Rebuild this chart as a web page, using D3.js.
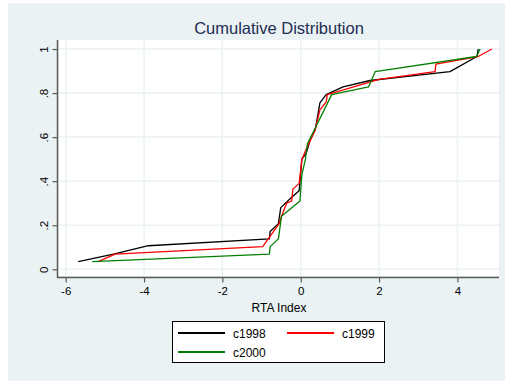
<!DOCTYPE html>
<html>
<head>
<meta charset="utf-8">
<script src="https://cdn.jsdelivr.net/npm/d3@7"></script>
<style>
  html, body { margin: 0; padding: 0; background: #ffffff; }
  svg { display: block; font-family: "Liberation Sans", Arial, Helvetica, sans-serif; }
</style>
</head>
<body>
<svg id="chart" width="505" height="381"></svg>
<script>
// Cumulative distribution of the RTA index, one curve per year
const seriesNames = ["c1998", "c1999", "c2000"];
const seriesColors = ["#000000", "#ff0000", "#008000"];

const rta1998 = [-5.68, -4.78, -3.89, -0.80, -0.78, -0.57, -0.51, -0.23, -0.04, 0.03, 0.14, 0.24, 0.37, 0.49, 0.65, 1.08, 1.77, 3.81, 4.50, 4.53];
const cum1998 = [0.0345, 0.069, 0.107, 0.138, 0.172, 0.207, 0.28, 0.327, 0.357, 0.50, 0.527, 0.586, 0.633, 0.755, 0.793, 0.828, 0.857, 0.897, 0.966, 1.0];

const rta1999 = [-5.17, -4.74, -0.97, -0.83, -0.55, -0.49, -0.36, -0.23, -0.20, -0.04, 0.03, 0.14, 0.37, 0.49, 0.65, 0.68, 2.0, 3.43, 3.45, 4.53, 4.88];
const cum1999 = [0.0345, 0.069, 0.103, 0.138, 0.207, 0.241, 0.30, 0.31, 0.364, 0.39, 0.50, 0.545, 0.633, 0.724, 0.76, 0.793, 0.862, 0.897, 0.931, 0.966, 1.0];

const rta2000 = [-5.32, -0.80, -0.78, -0.57, -0.49, -0.02, 0.03, 0.12, 0.17, 0.41, 0.79, 1.73, 1.90, 4.49, 4.58];
const cum2000 = [0.0345, 0.069, 0.103, 0.138, 0.241, 0.31, 0.43, 0.50, 0.57, 0.655, 0.793, 0.828, 0.897, 0.966, 1.0];

const xTicks = [-6, -4, -2, 0, 2, 4];
const yTicks = [0, 0.2, 0.4, 0.6, 0.8, 1];
const yTickLabels = ["0", ".2", ".4", ".6", ".8", "1"];

const titleText = "Cumulative Distribution";
const xTitle = "RTA Index";

const svg = d3.select("#chart");

// graph region
svg.append("rect").attr("x", 8).attr("y", 3).attr("width", 497).attr("height", 378)
  .attr("fill", "#eaf2f3");

// plot region
const plot = { left: 59, right: 499, top: 40, bottom: 276 };
svg.append("rect").attr("x", plot.left).attr("y", plot.top)
  .attr("width", plot.right - plot.left).attr("height", plot.bottom - plot.top)
  .attr("fill", "#ffffff");

const x = d3.scaleLinear().domain([-6, 4]).range([65.7, 457.4]);
const y = d3.scaleLinear().domain([0, 1]).range([269.3, 49]);

// grid
const grid = svg.append("g").attr("stroke", "#eaf2f3").attr("stroke-width", 1.5);
grid.selectAll("line.gx").data(xTicks).join("line")
  .attr("x1", d => x(d)).attr("x2", d => x(d))
  .attr("y1", plot.top).attr("y2", plot.bottom);
grid.selectAll("line.gy").data(yTicks).join("line")
  .attr("y1", d => y(d)).attr("y2", d => y(d))
  .attr("x1", plot.left).attr("x2", plot.right);

// axes
const axisColor = "#5a5a5a";
const yAxis = svg.append("g").attr("transform", "translate(57.5,0)")
  .call(d3.axisLeft(y).tickValues(yTicks).tickSize(5).tickPadding(0).tickFormat((d, i) => yTickLabels[i]));
yAxis.select(".domain").attr("d", `M0,${plot.top}V${plot.bottom + 2}`)
  .attr("stroke", axisColor).attr("stroke-width", 1.5);
yAxis.selectAll(".tick line").attr("stroke", axisColor).attr("stroke-width", 1.2);
yAxis.selectAll(".tick text")
  .attr("x", 0).attr("dy", null)
  .attr("transform", "translate(-12.5,0) rotate(-90)")
  .attr("text-anchor", "middle")
  .attr("dominant-baseline", "middle")
  .attr("font-size", 11.5).attr("fill", "#000")
  .style("font-family", "'Liberation Sans', Arial, sans-serif");

const xAxis = svg.append("g").attr("transform", "translate(0,277.5)")
  .call(d3.axisBottom(x).tickValues(xTicks).tickSize(5).tickPadding(4).tickFormat(d3.format("d")));
xAxis.select(".domain").attr("d", `M${plot.left - 2},0H${plot.right}`)
  .attr("stroke", axisColor).attr("stroke-width", 1.5);
xAxis.selectAll(".tick line").attr("stroke", axisColor).attr("stroke-width", 1.2);
xAxis.selectAll(".tick text")
  .attr("font-size", 11.5).attr("fill", "#000")
  .style("font-family", "'Liberation Sans', Arial, sans-serif")
  .text(d => d < 0 ? "-" + Math.abs(d) : String(d));

// curves
const allSeries = [
  { name: seriesNames[0], xs: rta1998, ps: cum1998, color: seriesColors[0] },
  { name: seriesNames[1], xs: rta1999, ps: cum1999, color: seriesColors[1] },
  { name: seriesNames[2], xs: rta2000, ps: cum2000, color: seriesColors[2] }
];
const line = d3.line().x(d => x(d[0])).y(d => y(d[1]));
svg.append("g").selectAll("path").data(allSeries).join("path")
  .attr("d", s => line(s.xs.map((v, i) => [v, s.ps[i]])))
  .attr("fill", "none")
  .attr("stroke", s => s.color)
  .attr("stroke-width", 1.3)
  .attr("stroke-linejoin", "round");

// titles
svg.append("text").attr("x", 279).attr("y", 33.5)
  .attr("text-anchor", "middle").attr("font-size", 16.5).attr("fill", "#1e2d53")
  .text(titleText);
svg.append("text").attr("x", 279).attr("y", 311.5)
  .attr("text-anchor", "middle").attr("font-size", 12).attr("fill", "#000")
  .text(xTitle);

// legend
const legend = svg.append("g");
legend.append("rect").attr("x", 172.5).attr("y", 321.5).attr("width", 212).attr("height", 41)
  .attr("fill", "#ffffff").attr("stroke", "#000").attr("stroke-width", 1);
const legendPos = [
  { lx: 178, ly: 333 },
  { lx: 287, ly: 333 },
  { lx: 178, ly: 352 }
];
allSeries.forEach((s, i) => {
  const p = legendPos[i];
  legend.append("line").attr("x1", p.lx).attr("x2", p.lx + 47)
    .attr("y1", p.ly).attr("y2", p.ly)
    .attr("stroke", s.color).attr("stroke-width", 1.8);
  legend.append("text").attr("x", p.lx + 55).attr("y", p.ly + 4.5)
    .attr("font-size", 12).attr("fill", "#000").text(s.name);
});
</script>
</body>
</html>
